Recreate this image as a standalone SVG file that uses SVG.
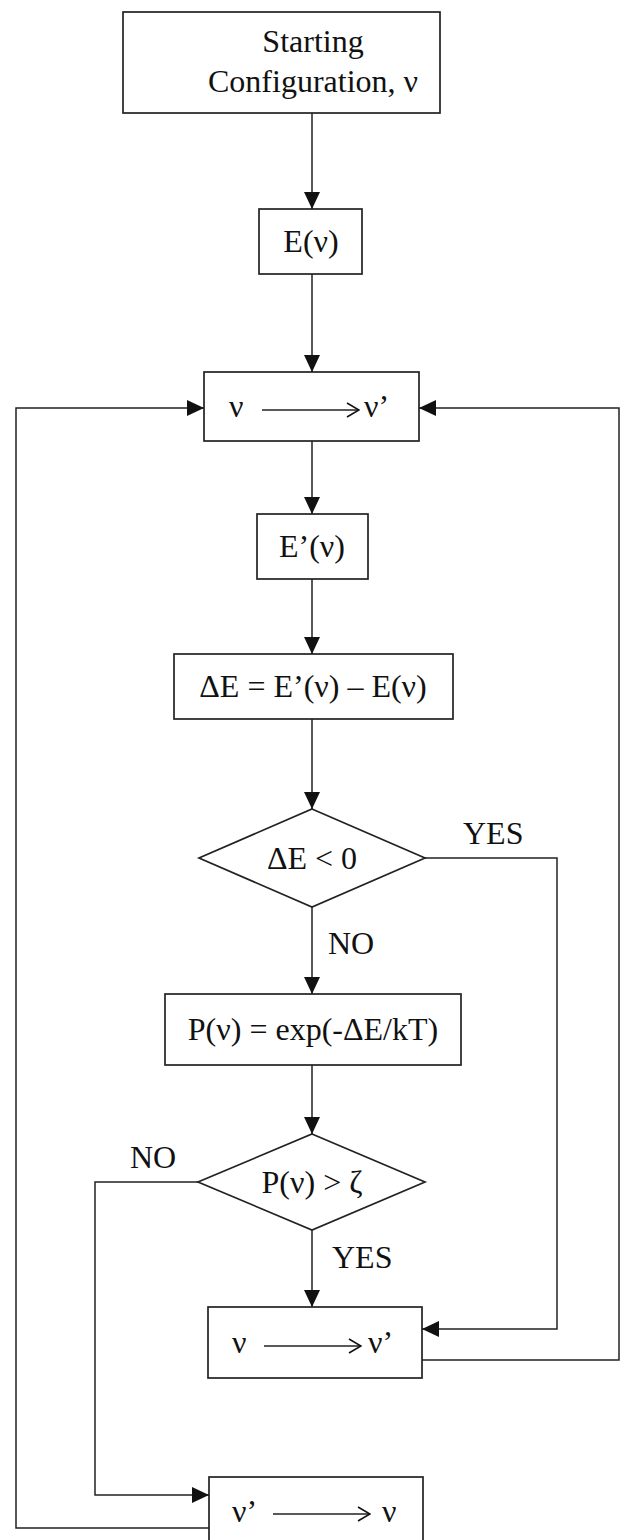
<svg xmlns="http://www.w3.org/2000/svg" width="621" height="1540" viewBox="0 0 621 1540">
<style>
.box{fill:#fff;stroke:#222;stroke-width:1.7}
.ln{fill:none;stroke:#222;stroke-width:1.5}
.t{font-family:"Liberation Serif","Times New Roman",serif;font-size:32px;fill:#111}
.c{text-anchor:middle}
</style>
<defs>
<marker id="ah" markerUnits="userSpaceOnUse" markerWidth="18" markerHeight="16" refX="17" refY="8" orient="auto">
<path d="M0,0 L17,8 L0,16 z" fill="#111"/>
</marker>
<marker id="ch" markerUnits="userSpaceOnUse" markerWidth="14" markerHeight="18" refX="13" refY="8" orient="auto">
<path d="M1,1 L13,8 L1,15" fill="none" stroke="#111" stroke-width="1.6"/>
</marker>
</defs>
<rect width="621" height="1540" fill="#fff"/>

<g id="start">
<rect class="box" x="123" y="12" width="317" height="101"/>
<text class="t c" x="313" y="52">Starting</text>
<text class="t c" x="313" y="92">Configuration, ν</text>
</g>

<g id="energy">
<rect class="box" x="259" y="209" width="103" height="65"/>
<text class="t c" x="311" y="252">E(ν)</text>
</g>

<g id="move1">
<rect class="box" x="204" y="372" width="215" height="69"/>
<text class="t" x="229" y="417">ν</text>
<line class="ln" x1="262" y1="410" x2="359" y2="410" marker-end="url(#ch)"/>
<text class="t" x="364" y="417">ν’</text>
</g>

<g id="energy2">
<rect class="box" x="257" y="514" width="111" height="65"/>
<text class="t c" x="312" y="557">E’(ν)</text>
</g>

<g id="delta">
<rect class="box" x="174" y="654" width="279" height="65"/>
<text class="t c" x="313" y="697">ΔE = E’(ν) – E(ν)</text>
</g>

<g id="dec1">
<polygon class="box" points="312,809 425,858 312,907 199,858"/>
<text class="t c" x="312" y="869">ΔE &lt; 0</text>
</g>

<g id="prob">
<rect class="box" x="165" y="994" width="296" height="71"/>
<text class="t c" x="313" y="1040">P(ν) = exp(-ΔE/kT)</text>
</g>

<g id="dec2">
<polygon class="box" points="312,1134 425,1182 312,1230 198,1182"/>
<text class="t c" x="312" y="1193">P(ν) &gt; ζ</text>
</g>

<g id="accept">
<rect class="box" x="208" y="1307" width="214" height="71"/>
<text class="t" x="232" y="1353">ν</text>
<line class="ln" x1="264" y1="1346" x2="361" y2="1346" marker-end="url(#ch)"/>
<text class="t" x="368" y="1353">ν’</text>
</g>

<g id="reject">
<rect class="box" x="209" y="1477" width="214" height="70"/>
<text class="t" x="232" y="1522">ν’</text>
<line class="ln" x1="273" y1="1514" x2="370" y2="1514" marker-end="url(#ch)"/>
<text class="t" x="382" y="1522">ν</text>
</g>

<g id="connectors">
<line class="ln" x1="312" y1="113" x2="312" y2="209" marker-end="url(#ah)"/>
<line class="ln" x1="312" y1="274" x2="312" y2="372" marker-end="url(#ah)"/>
<line class="ln" x1="312" y1="441" x2="312" y2="514" marker-end="url(#ah)"/>
<line class="ln" x1="312" y1="579" x2="312" y2="654" marker-end="url(#ah)"/>
<line class="ln" x1="312" y1="719" x2="312" y2="809" marker-end="url(#ah)"/>
<line class="ln" x1="312" y1="907" x2="312" y2="994" marker-end="url(#ah)"/>
<line class="ln" x1="312" y1="1065" x2="312" y2="1134" marker-end="url(#ah)"/>
<line class="ln" x1="312" y1="1230" x2="312" y2="1307" marker-end="url(#ah)"/>
<polyline class="ln" points="425,858 557,858 557,1329 422,1329" marker-end="url(#ah)"/>
<polyline class="ln" points="198,1182 95,1182 95,1495 209,1495" marker-end="url(#ah)"/>
<polyline class="ln" points="422,1360 619,1360 619,408 419,408" marker-end="url(#ah)"/>
<polyline class="ln" points="209,1528 16,1528 16,408 204,408" marker-end="url(#ah)"/>
<text class="t" x="463" y="844">YES</text>
<text class="t" x="328" y="954">NO</text>
<text class="t" x="130" y="1168">NO</text>
<text class="t" x="332" y="1268">YES</text>
</g>
</svg>
